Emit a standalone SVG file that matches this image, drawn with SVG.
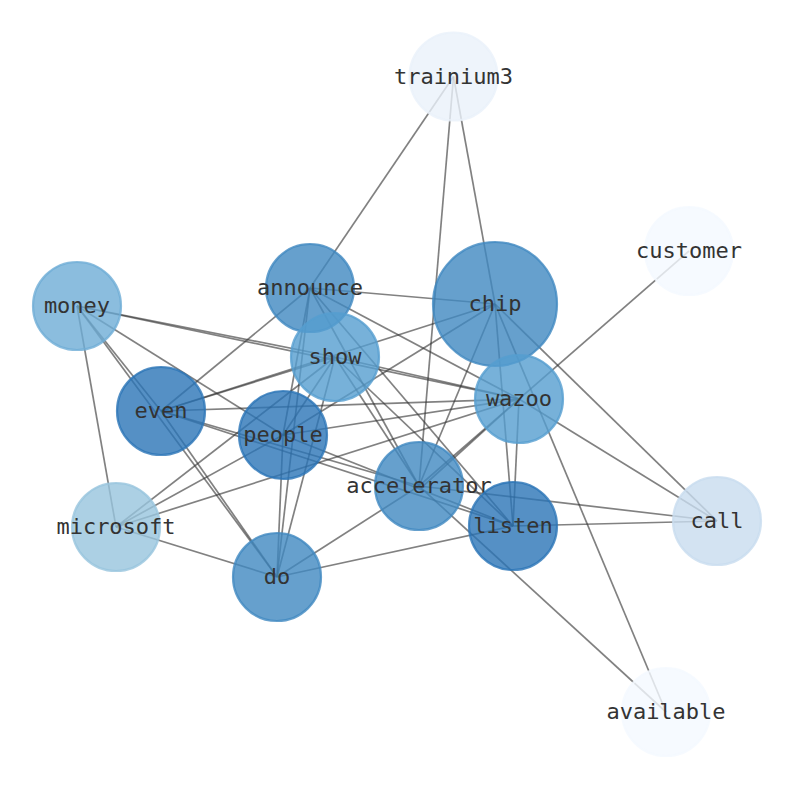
<svg xmlns="http://www.w3.org/2000/svg" width="794" height="790" viewBox="0 0 794 790">
<style>
.e{stroke:#333;stroke-opacity:0.62;stroke-width:1.7;fill:none}
.n{stroke-width:2.2;fill-opacity:0.8;stroke-opacity:0.8}
.c1{fill:#2b74b6;stroke:#2b74b6}
.c2{fill:#4088c0;stroke:#4088c0}
.c3{fill:#559ecf;stroke:#559ecf}
.c4{fill:#6eacd6;stroke:#6eacd6}
.c5{fill:#97c4dd;stroke:#97c4dd}
.c6{fill:#c8dcef;stroke:#c8dcef}
.c7{fill:#eaf1fa;stroke:#eaf1fa}
.c8{fill:#f4f9ff;stroke:#f4f9ff}
text{font-family:"DejaVu Sans Mono","Liberation Mono",monospace;font-size:22px;fill:#333;text-anchor:middle}
</style>
<rect width="794" height="790" fill="#fff"/>
<g id="connectors">
<line class="e" x1="453.5" y1="76.5" x2="310" y2="288"/>
<line class="e" x1="453.5" y1="76.5" x2="419" y2="486"/>
<line class="e" x1="453.5" y1="76.5" x2="495" y2="304"/>
<line class="e" x1="689" y1="251" x2="419" y2="486"/>
<line class="e" x1="495" y1="304" x2="717" y2="521"/>
<line class="e" x1="519" y1="399" x2="717" y2="521"/>
<line class="e" x1="419" y1="486" x2="717" y2="521"/>
<line class="e" x1="513" y1="526" x2="717" y2="521"/>
<line class="e" x1="495" y1="304" x2="666" y2="712"/>
<line class="e" x1="419" y1="486" x2="666" y2="712"/>
<line class="e" x1="310" y1="288" x2="495" y2="304"/>
<line class="e" x1="77" y1="306" x2="335" y2="357"/>
<line class="e" x1="77" y1="306" x2="519" y2="399"/>
<line class="e" x1="77" y1="306" x2="283" y2="435"/>
<line class="e" x1="77" y1="306" x2="161" y2="411"/>
<line class="e" x1="77" y1="306" x2="277" y2="577"/>
<line class="e" x1="77" y1="306" x2="116" y2="527"/>
<line class="e" x1="161" y1="411" x2="277" y2="577"/>
<line class="e" x1="161" y1="411" x2="310" y2="288"/>
<line class="e" x1="161" y1="411" x2="335" y2="357"/>
<line class="e" x1="161" y1="411" x2="495" y2="304"/>
<line class="e" x1="161" y1="411" x2="519" y2="399"/>
<line class="e" x1="161" y1="411" x2="419" y2="486"/>
<line class="e" x1="161" y1="411" x2="513" y2="526"/>
<line class="e" x1="283" y1="435" x2="519" y2="399"/>
<line class="e" x1="283" y1="435" x2="513" y2="526"/>
<line class="e" x1="283" y1="435" x2="277" y2="577"/>
<line class="e" x1="283" y1="435" x2="335" y2="357"/>
<line class="e" x1="283" y1="435" x2="310" y2="288"/>
<line class="e" x1="283" y1="435" x2="495" y2="304"/>
<line class="e" x1="116" y1="527" x2="335" y2="357"/>
<line class="e" x1="116" y1="527" x2="283" y2="435"/>
<line class="e" x1="116" y1="527" x2="519" y2="399"/>
<line class="e" x1="116" y1="527" x2="277" y2="577"/>
<line class="e" x1="335" y1="357" x2="519" y2="399"/>
<line class="e" x1="335" y1="357" x2="513" y2="526"/>
<line class="e" x1="335" y1="357" x2="419" y2="486"/>
<line class="e" x1="335" y1="357" x2="277" y2="577"/>
<line class="e" x1="310" y1="288" x2="519" y2="399"/>
<line class="e" x1="310" y1="288" x2="513" y2="526"/>
<line class="e" x1="310" y1="288" x2="419" y2="486"/>
<line class="e" x1="310" y1="288" x2="277" y2="577"/>
<line class="e" x1="495" y1="304" x2="419" y2="486"/>
<line class="e" x1="495" y1="304" x2="513" y2="526"/>
<line class="e" x1="519" y1="399" x2="513" y2="526"/>
<line class="e" x1="519" y1="399" x2="421" y2="488"/>
<line class="e" x1="419" y1="486" x2="277" y2="577"/>
<line class="e" x1="513" y1="526" x2="277" y2="577"/>
</g>
<g id="node-trainium3"><circle class="n c7" cx="453.5" cy="76.5" r="44"/><text x="453.5" y="83.5">trainium3</text></g>
<g id="node-customer"><circle class="n c8" cx="689" cy="251" r="44"/><text x="689" y="258">customer</text></g>
<g id="node-chip"><circle class="n c2" cx="495" cy="304" r="62"/><text x="495" y="311">chip</text></g>
<g id="node-announce"><circle class="n c2" cx="310" cy="288" r="44"/><text x="310" y="295">announce</text></g>
<g id="node-money"><circle class="n c4" cx="77" cy="306" r="44"/><text x="77" y="313">money</text></g>
<g id="node-show"><circle class="n c3" cx="335" cy="357" r="44"/><text x="335" y="364">show</text></g>
<g id="node-even"><circle class="n c1" cx="161" cy="411" r="44"/><text x="161" y="418">even</text></g>
<g id="node-wazoo"><circle class="n c3" cx="519" cy="399" r="44"/><text x="519" y="406">wazoo</text></g>
<g id="node-people"><circle class="n c1" cx="283" cy="435" r="44"/><text x="283" y="442">people</text></g>
<g id="node-accelerator"><circle class="n c2" cx="419" cy="486" r="44"/><text x="419" y="493">accelerator</text></g>
<g id="node-listen"><circle class="n c1" cx="513" cy="526" r="44"/><text x="513" y="533">listen</text></g>
<g id="node-call"><circle class="n c6" cx="717" cy="521" r="44"/><text x="717" y="528">call</text></g>
<g id="node-microsoft"><circle class="n c5" cx="116" cy="527" r="44"/><text x="116" y="534">microsoft</text></g>
<g id="node-do"><circle class="n c2" cx="277" cy="577" r="44"/><text x="277" y="584">do</text></g>
<g id="node-available"><circle class="n c8" cx="666" cy="712" r="44"/><text x="666" y="719">available</text></g>
</svg>
